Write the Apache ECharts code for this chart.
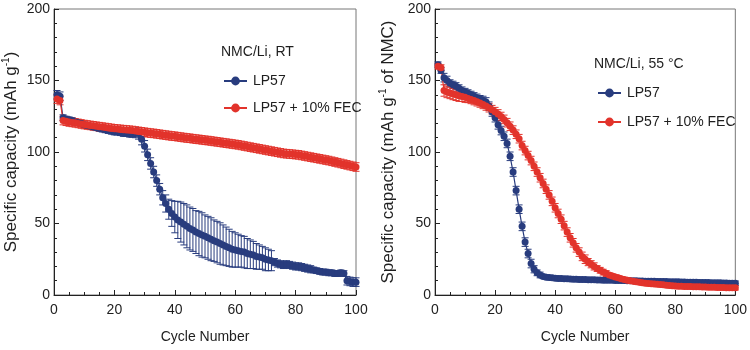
<!DOCTYPE html>
<html>
<head>
<meta charset="utf-8">
<script src="https://cdn.jsdelivr.net/npm/echarts@6/dist/echarts.min.js"></script>
<style>
  html, body { margin: 0; padding: 0; background: #fff; }
  #chart { width: 750px; height: 350px; }
</style>
</head>
<body>
<div id="chart"></div>
<script>
// cycle numbers 1..100 (x values)
const cycles = Array.from({ length: 100 }, (_, i) => i + 1);

// left panel: NMC/Li, RT
const rtLP57 = [
  140, 139, 124, 123, 122.5, 122, 121, 120.5, 120, 119,
  118.5, 118, 117.5, 117, 116.5, 116, 115.5, 115, 114.5, 114,
  114, 113.5, 113, 113, 112.5, 112.5, 113, 113, 109, 104,
  98, 92, 86, 80, 74, 68, 64, 60, 57, 54.5,
  52.5, 51, 49.5, 48, 46.5, 45.5, 44, 43, 42, 41,
  40, 39, 38, 37, 36, 35, 34, 33, 32, 31.5,
  31, 30.5, 30, 29, 28.5, 28, 27, 26.5, 26, 25,
  24.5, 24, 23, 22, 21.5, 21, 21.5, 21, 20.5, 20,
  20, 19.5, 19, 18.5, 18, 17.5, 17, 16.5, 16, 16,
  15.5, 15.5, 15, 15, 15.5, 15, 10, 9.5, 9, 9
];
const rtLP57Err = [
  3, 3, 2, 2, 2, 2, 2, 2, 2, 2,
  2, 2, 2, 2, 2, 2, 2, 2, 2, 2,
  2, 2, 2, 2, 2, 2, 3, 4, 4, 4,
  4, 4, 4, 4, 4, 5, 6, 7, 9, 11,
  13, 14, 14.5, 15, 15, 15, 15, 15.5, 15.5, 15,
  15, 15, 14.5, 14.5, 14.5, 14, 13.5, 13, 12.5, 12,
  11.5, 11, 11, 10.5, 10, 9.5, 9, 8.5, 8, 8,
  7.5, 7, 2.5, 2.5, 2.5, 2.5, 2.5, 2.5, 2.5, 2.5,
  2.5, 2.5, 2.5, 2.5, 2.5, 2, 2, 2, 2, 2,
  2, 2, 2, 2, 2, 2, 3, 3, 3, 3
];
const rtFEC = [
  137, 136, 122, 121.5, 121, 120.7, 120.4, 120, 119.6, 119.2,
  118.9, 118.6, 118.3, 118, 117.7, 117.4, 117.1, 116.8, 116.5, 116.2,
  116, 115.8, 115.6, 115.4, 115.2, 115, 114.7, 114.4, 114.1, 113.8,
  113.5, 113.2, 113, 112.7, 112.4, 112.1, 111.8, 111.5, 111.2, 111,
  110.7, 110.4, 110.1, 109.8, 109.6, 109.3, 109, 108.8, 108.5, 108.2,
  108, 107.7, 107.4, 107.1, 106.8, 106.5, 106.2, 105.9, 105.6, 105.3,
  105, 104.6, 104.2, 103.8, 103.4, 103, 102.6, 102.2, 101.8, 101.4,
  101, 100.6, 100.2, 99.8, 99.4, 99, 98.8, 98.6, 98.4, 98.2,
  98, 97.6, 97.2, 96.8, 96.4, 96, 95.6, 95.2, 94.8, 94.4,
  94, 93.5, 93, 92.5, 92, 91.5, 91, 90.5, 90, 89.5
];
const rtFECErr = [
  3, 3, 3, 3, 3, 3, 3, 3, 3, 3,
  3, 3, 3, 3, 3, 3, 3, 3, 3, 3,
  3, 3, 3, 3, 3, 3, 3, 3, 3, 3,
  3, 3, 3, 3, 3, 3, 3, 3, 3, 3,
  3, 3, 3, 3, 3, 3, 3, 3, 3, 3,
  3, 3, 3, 3, 3, 3, 3, 3, 3, 3,
  3, 3, 3, 3, 3, 3, 3, 3, 3, 3,
  3, 3, 3, 3, 3, 3, 3, 3, 3, 3,
  3, 3, 3, 3, 3, 3, 3, 3, 3, 3,
  3, 3, 3, 3, 3, 3, 3, 3, 3, 3
];

// right panel: NMC/Li, 55 °C
const htLP57 = [
  161, 157, 152, 150, 148, 147, 146, 144.5, 143, 142,
  141, 140, 139, 138, 137, 136, 135, 132, 128, 124,
  119, 115, 111, 106, 97, 86, 73, 60, 48, 37,
  29, 22, 18, 15.5, 14, 13, 12.5, 12.2, 12, 11.8,
  11.6, 11.5, 11.4, 11.3, 11.2, 11.1, 11, 10.9, 10.8, 10.8,
  10.7, 10.6, 10.6, 10.5, 10.5, 10.4, 10.4, 10.3, 10.3, 10.2,
  10.2, 10.1, 10.1, 10, 10, 9.9, 9.9, 9.8, 9.8, 9.7,
  9.7, 9.6, 9.6, 9.5, 9.5, 9.4, 9.4, 9.3, 9.3, 9.2,
  9.2, 9.1, 9.1, 9, 9, 8.9, 8.9, 8.8, 8.8, 8.7,
  8.7, 8.6, 8.6, 8.5, 8.5, 8.4, 8.4, 8.3, 8.3, 8.3
];
const htLP57Err = [
  2, 2, 3, 3, 2.5, 2.5, 2.5, 2.5, 2.5, 2.5,
  2.5, 2.5, 2.5, 2.5, 2.5, 3, 3, 3, 3, 3,
  3, 3, 3, 3, 3, 3, 3, 3, 3, 3,
  3, 3, 2.5, 2, 2, 1.5, 1.5, 1.5, 1.5, 1.5,
  1.5, 1.5, 1.5, 1.5, 1.5, 1.5, 1.5, 1.5, 1.5, 1.5,
  1.5, 1.5, 1.5, 1.5, 1.5, 1.5, 1.5, 1.5, 1.5, 1.5,
  1.5, 1.5, 1.5, 1.5, 1.5, 1.5, 1.5, 1.5, 1.5, 1.5,
  1.5, 1.5, 1.5, 1.5, 1.5, 1.5, 1.5, 1.5, 1.5, 1.5,
  1.5, 1.5, 1.5, 1.5, 1.5, 1.5, 1.5, 1.5, 1.5, 1.5,
  1.5, 1.5, 1.5, 1.5, 1.5, 1.5, 1.5, 1.5, 1.5, 1.5
];
const htFEC = [
  160, 159, 143, 142, 141.3, 140.6, 140, 139.4, 138.8, 138.2,
  137.5, 136.8, 136, 135.2, 134.3, 133.3, 132.2, 131, 129.6, 128.2,
  126.6, 124.8, 122.8, 120.5, 118, 115.3, 112.4, 109.3, 104.5, 101,
  97.5, 94, 90, 86, 82, 78, 74, 70, 65.5, 61,
  57, 53, 48.5, 44, 40, 36.5, 33, 30, 27, 25,
  23, 21.5, 20, 18.5, 17.3, 16, 15, 14, 13.3, 12.6,
  12, 11.4, 10.9, 10.4, 10, 9.6, 9.2, 8.9, 8.6, 8.3,
  8.1, 7.9, 7.7, 7.5, 7.3, 7.1, 6.9, 6.7, 6.5, 6.3,
  6.2, 6.1, 6, 5.9, 5.9, 5.8, 5.7, 5.7, 5.6, 5.6,
  5.5, 5.4, 5.4, 5.3, 5.3, 5.2, 5.1, 5.1, 5, 5
];
const htFECErr = [
  2, 2, 4, 4, 4, 4, 4, 4, 3.5, 3.5,
  3, 3, 3, 3, 3, 3, 3, 3, 3, 3,
  3, 3, 3, 3, 3, 3, 3, 3, 3, 3,
  3, 3, 3, 3, 3, 3, 3, 3, 3, 3,
  3, 3, 3, 3, 3, 3, 3, 3, 3, 3,
  2.5, 2.5, 2.5, 2, 2, 2, 2, 1.5, 1.5, 1.5,
  1.5, 1.5, 1.5, 1.5, 1.5, 1.5, 1.5, 1.5, 1.5, 1.5,
  1.5, 1.5, 1.5, 1.5, 1.5, 1.5, 1.5, 1.5, 1.5, 1.5,
  1.5, 1.5, 1.5, 1.5, 1.5, 1.5, 1.5, 1.5, 1.5, 1.5,
  1.5, 1.5, 1.5, 1.5, 1.5, 1.5, 1.5, 1.5, 1.5, 1.5
];

const names = ['LP57', 'LP57 + 10% FEC'];
const BLUE = '#283c7e';
const RED = '#e2332b';
const FONT = "'Liberation Sans', Arial, sans-serif";
const TXT = '#1e1e1e';

let chart = echarts.init(document.getElementById('chart'));

function points(vals) {
    return vals.map((v, i) => [cycles[i], v]);
}

function errData(vals, errs) {
    return vals.map((v, i) => [cycles[i], v, errs[i]]);
}

function errSeries(idx, vals, errs, color) {
    return {
        type: 'custom',
        name: 'err' + idx + color,
        xAxisIndex: idx,
        yAxisIndex: idx,
        silent: true,
        data: errData(vals, errs),
        renderItem: function (params, api) {
            let x = api.value(0), y = api.value(1), e = api.value(2);
            let top = api.coord([x, y + e]);
            let bot = api.coord([x, y - e]);
            let w = 3.5;
            let st = { stroke: color, lineWidth: 1 };
            return {
                type: 'group',
                children: [
                    { type: 'line', shape: { x1: top[0], y1: top[1], x2: bot[0], y2: bot[1] }, style: st },
                    { type: 'line', shape: { x1: top[0] - w, y1: top[1], x2: top[0] + w, y2: top[1] }, style: st },
                    { type: 'line', shape: { x1: bot[0] - w, y1: bot[1], x2: bot[0] + w, y2: bot[1] }, style: st }
                ]
            };
        }
    };
}

function lineSeries(idx, name, vals, color) {
    return {
        type: 'line',
        name: name,
        xAxisIndex: idx,
        yAxisIndex: idx,
        data: points(vals),
        symbol: 'circle',
        symbolSize: 7,
        showAllSymbol: true,
        lineStyle: { color: color, width: 1.2 },
        itemStyle: { color: color },
        emphasis: { disabled: true },
        animation: false
    };
}

function xAxis(idx) {
    return {
        type: 'value',
        gridIndex: idx,
        min: 0, max: 100, interval: 20,
        name: 'Cycle Number',
        nameLocation: 'middle',
        nameGap: 35,
        nameTextStyle: { fontFamily: FONT, fontSize: 14, color: TXT },
        axisLine: { lineStyle: { color: '#222', width: 1 } },
        axisTick: { inside: true, length: 5, lineStyle: { color: '#222' } },
        minorTick: { show: true, splitNumber: 4, length: 3, lineStyle: { color: '#222' } },
        splitLine: { show: false },
        axisLabel: { fontFamily: FONT, fontSize: 14, color: TXT, margin: 8 }
    };
}

function yAxis(idx, label, gap) {
    return {
        type: 'value',
        gridIndex: idx,
        min: 0, max: 200, interval: 50,
        name: label,
        nameLocation: 'middle',
        nameGap: gap,
        nameRotate: 90,
        nameTextStyle: {
            fontFamily: FONT, fontSize: 17, color: TXT,
            rich: {
                m: { fontFamily: FONT, fontSize: 17, color: TXT, lineHeight: 20 },
                s: { fontFamily: FONT, fontSize: 10, color: TXT, verticalAlign: 'top', lineHeight: 20, padding: [0, 0, 8, 0] }
            }
        },
        axisLine: { lineStyle: { color: '#222', width: 1 } },
        axisTick: { inside: true, length: 5, lineStyle: { color: '#222' } },
        minorTick: { show: true, splitNumber: 5, length: 3, lineStyle: { color: '#222' } },
        splitLine: { show: false },
        axisLabel: { fontFamily: FONT, fontSize: 14, color: TXT, margin: 4 }
    };
}

function legendAt(left, top, gap) {
    return {
        data: names,
        orient: 'vertical',
        left: left,
        top: top,
        padding: 0,
        itemWidth: 23,
        itemHeight: 11,
        itemGap: gap,
        selectedMode: false,
        textStyle: { fontFamily: FONT, fontSize: 14, color: TXT, padding: [0, 0, 0, 1] }
    };
}

let option = {
    animation: false,
    backgroundColor: '#fff',
    title: [
        { text: 'NMC/Li, RT', left: 221, top: 45, padding: 0, textStyle: { fontFamily: FONT, fontSize: 14, fontWeight: 'normal', color: TXT } },
        { text: 'NMC/Li, 55 °C', left: 594, top: 57, padding: 0, textStyle: { fontFamily: FONT, fontSize: 14, fontWeight: 'normal', color: TXT } }
    ],
    legend: [
        legendAt(223, 74, 13),
        legendAt(597, 86, 15)
    ],
    grid: [
        { left: 54, top: 9, width: 302, height: 286, show: true, borderColor: '#777', borderWidth: 1, backgroundColor: 'transparent' },
        { left: 435, top: 9, width: 302, height: 286, show: true, borderColor: '#777', borderWidth: 1, backgroundColor: 'transparent' }
    ],
    xAxis: [xAxis(0), xAxis(1)],
    yAxis: [
        yAxis(0, '{m|Specific capacity (mAh g}{s|-1}{m|)}', 33),
        yAxis(1, '{m|Specific capacity (mAh g}{s|-1}{m| of NMC)}', 37)
    ],
    series: [
        errSeries(0, rtLP57, rtLP57Err, BLUE),
        lineSeries(0, names[0], rtLP57, BLUE),
        errSeries(0, rtFEC, rtFECErr, RED),
        lineSeries(0, names[1], rtFEC, RED),
        errSeries(1, htLP57, htLP57Err, BLUE),
        lineSeries(1, names[0], htLP57, BLUE),
        errSeries(1, htFEC, htFECErr, RED),
        lineSeries(1, names[1], htFEC, RED)
    ]
};

chart.setOption(option);
</script>
</body>
</html>
